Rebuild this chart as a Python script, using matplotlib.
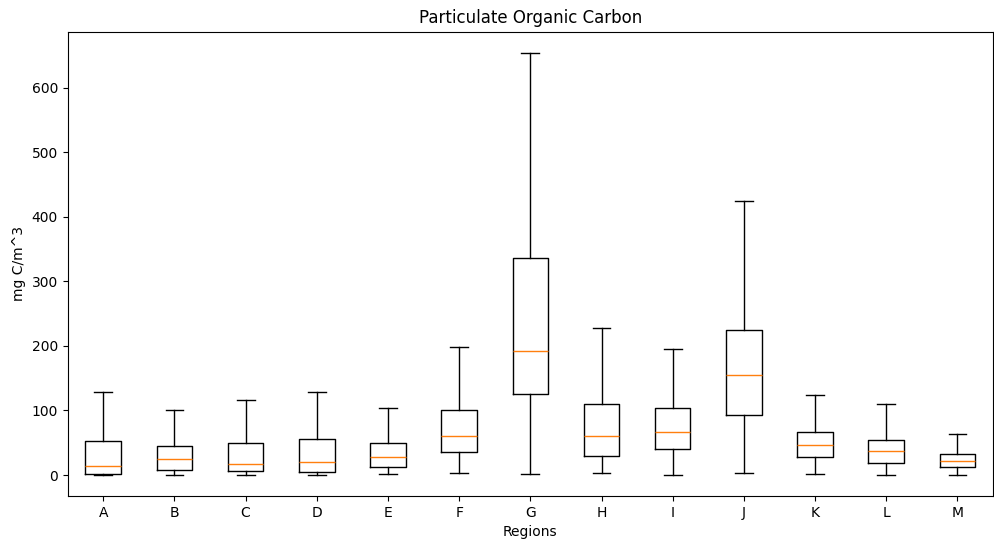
import matplotlib
matplotlib.use("Agg")
import matplotlib.pyplot as plt

# hodnoty (mg C/m^3)
regiony = ["A", "B", "C", "D", "E", "F", "G", "H", "I", "J", "K", "L", "M"]
minima = [0.5, 0, 0, 0, 1.5, 3.6, 1.5, 3.6, 0, 3.6, 1.5, 0, 0]
q1 = [1.5, 7.8, 5.7, 4.6, 12.4, 36, 125, 29.5, 40.8, 92.6, 28, 19, 13]
mediany = [14, 25, 17.5, 20.7, 28, 61, 192, 61, 67, 155, 47, 37.7, 22]
q3 = [52.7, 45, 50, 55, 50, 101, 336.7, 109.7, 103, 225, 67, 54.8, 33]
maxima = [128, 100, 116, 128, 104.5, 198.6, 654, 228, 195, 423.6, 123.6, 109.7, 63]

# statistiky pro bxp (fousy = min/max, bez outlieru)
stats = []
for i in range(len(regiony)):
    stats.append({
        "label": regiony[i],
        "whislo": minima[i],
        "q1": q1[i],
        "med": mediany[i],
        "q3": q3[i],
        "whishi": maxima[i],
        "fliers": [],
    })

fig = plt.figure(figsize=(9.95, 5.44), dpi=100)
ax = fig.add_axes([0.068, 0.088, 0.93, 0.854])
ax.bxp(stats, showfliers=False)

ax.set_title("Particulate Organic Carbon")
ax.set_xlabel("Regions")
ax.set_ylabel("mg C/m^3")

fig.savefig("out.png", dpi=100)
